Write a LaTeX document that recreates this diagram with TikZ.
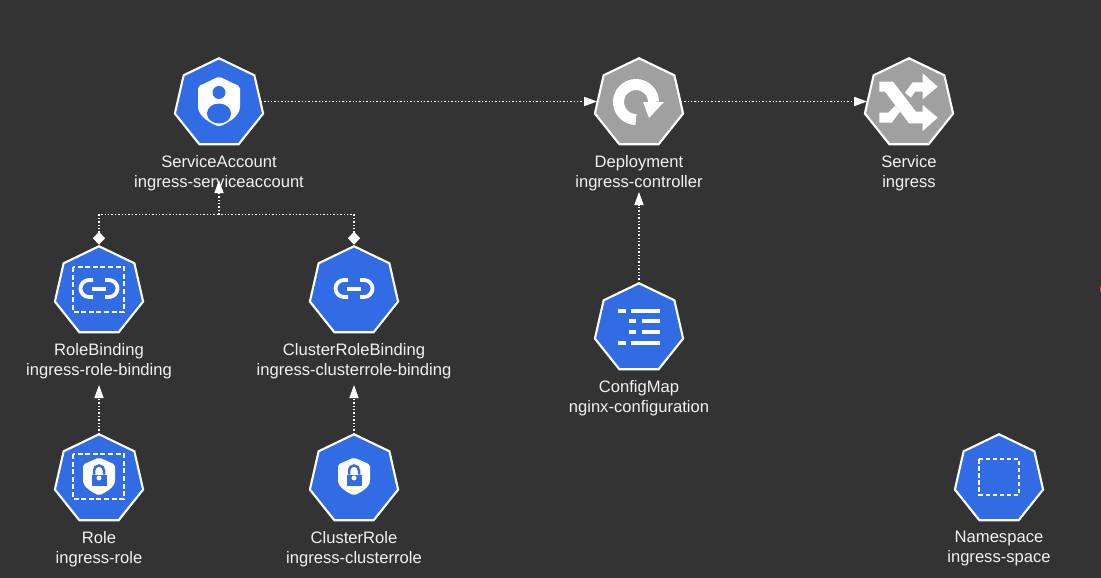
\documentclass[tikz,border=0pt]{standalone}
\usepackage{fontspec}
\setmainfont{Liberation Sans}
\usetikzlibrary{arrows.meta,shapes.geometric,positioning}
\definecolor{kubebg}{HTML}{333333}
\definecolor{kubeblue}{HTML}{326CE5}
\definecolor{kubegrey}{HTML}{A0A0A0}
\definecolor{kubetext}{HTML}{F2F2F2}
\definecolor{kubemark}{HTML}{C8404A}

\tikzset{
    % one Kubernetes object
    kobj/.style={regular polygon, regular polygon sides=7, minimum size=90.5pt, inner sep=0pt, outer sep=0pt, draw=white, line width=2.1pt, fill=#1},
    kobj/.default=kubeblue,
    ktext/.style={align=center, text=kubetext, font=\fontsize{16.6pt}{20pt}\selectfont},
    flow/.style={draw=white, line width=1.4pt, dotted, -{Triangle[length=13pt,width=9pt,fill=white]}},
    bound/.style={draw=white, line width=1.4pt, dotted, {Diamond[length=13pt,width=12pt,fill=white]}-},
    framebox/.style={draw=white, line width=2.6pt, dash pattern=on 5pt off 2.6pt},
    pics/personshield/.style={code={
        \fill[white, rounded corners=2pt] (0,-27) -- (21,-17) -- (21,1) .. controls (21,13) and (8,20) .. (0,23)
            .. controls (-8,20) and (-21,13) .. (-21,1) -- (-21,-17) -- cycle;
        \fill[kubeblue] (0,-11) circle (6.5pt);
        \fill[kubeblue] (0,10) ellipse (12pt and 10pt);
    }},
    pics/lockshield/.style={code={
        \fill[white, rounded corners=2pt] (0,-22) -- (16,-15) -- (16,-1) .. controls (16,8) and (6,13) .. (0,16)
            .. controls (-6,13) and (-16,8) .. (-16,-1) -- (-16,-15) -- cycle;
        \fill[kubeblue] (-7.5,-5) rectangle (7.5,6);
        \draw[kubeblue, line width=2.5pt] (-5,-5) -- (-5,-9) arc[start angle=180,end angle=360,radius=5] -- (5,-5);
        \fill[white] (0,-1.5) circle (2.5pt);
    }},
    pics/chain/.style={code={
        \draw[white, line width=3.8pt] (-6,-11.5) -- (-10,-11.5) arc[start angle=270,end angle=90,radius=8.5] -- (-6,5.5);
        \draw[white, line width=3.8pt] (6,-11.5) -- (10,-11.5) arc[start angle=-90,end angle=90,radius=8.5] -- (6,5.5);
        \draw[white, line width=4pt] (-7,-3) -- (7,-3);
    }},
}

\begin{document}
\begin{tikzpicture}[x=1pt, y=-1pt, node distance=69.5pt]
    \fill[kubebg] (0,0) rectangle (1101,578);
    \useasboundingbox (0,0) rectangle (1101,578);

    %% Top row
    \node[kobj] (SA) at (219,103.5) {};
    \node[kobj=kubegrey, right of = SA, node distance=420pt] (DP) {};
    \node[kobj=kubegrey, right of = DP, node distance=270pt] (SV) {};
    \node[ktext, below of = SA] (SAt) {ServiceAccount\\ingress-serviceaccount};
    \node[ktext, below of = DP] (DPt) {Deployment\\ingress-controller};
    \node[ktext, below of = SV] (SVt) {Service\\ingress};

    %% Bindings
    \node[kobj] (RB) at (99,291.5) {};
    \node[kobj, right of = RB, node distance=255pt] (CRB) {};
    \node[ktext, below of = RB] (RBt) {RoleBinding\\ingress-role-binding};
    \node[ktext, below of = CRB] (CRBt) {ClusterRoleBinding\\ingress-clusterrole-binding};

    %% Roles
    \node[kobj, below of = RB, node distance=188pt] (R) {};
    \node[kobj, right of = R, node distance=255pt] (CR) {};
    \node[ktext, below of = R] (Rt) {Role\\ingress-role};
    \node[ktext, below of = CR] (CRt) {ClusterRole\\ingress-clusterrole};

    %% ConfigMap and Namespace
    \node[kobj] (CM) at (639,328.5) {};
    \node[ktext, below of = CM] (CMt) {ConfigMap\\nginx-configuration};
    \node[kobj, right of = CR, node distance=645pt] (NS) {};
    \node[ktext, below of = NS] (NSt) {Namespace\\ingress-space};

    %% Icons
    \pic at (SA) {personshield};
    \pic at (RB) {chain};
    \pic at (CRB) {chain};
    \draw[framebox] (73,267) rectangle (124,312);
    \pic at (R) {lockshield};
    \pic at (CR) {lockshield};
    \draw[framebox] (73,454) rectangle (124,499);
    \draw[framebox, line width=2pt, dash pattern=on 4.5pt off 2.5pt] (979,459) rectangle (1019,494.5);

    \draw[white, line width=11pt] (636,119.5) arc[start angle=90,end angle=360,radius=17.5];
    \fill[white] (643,102) -- (664,102) -- (649,118) -- cycle;

    \fill[white] (879.3,81.7) -- (893,81.7) -- (916,111.7) -- (922.7,111.7) -- (922.7,105) -- (937.7,117.7)
        -- (922.7,131) -- (922.7,123.3) -- (909,123.3) -- (885,91.7) -- (879.3,91.7) -- cycle;
    \fill[white] (922.7,73.3) -- (937.7,86.7) -- (922.7,99.3) -- (922.7,91.7) -- (915,91.7) -- (911,97.7)
        -- (905,92.7) -- (912.7,82.3) -- (922.7,82.3) -- cycle;
    \fill[white] (879.3,112.7) -- (888.3,112.7) -- (895,105.7) -- (900,111.7) -- (891.7,122.7) -- (879.3,122.7) -- cycle;

    \foreach \y/\a/\b/\c in {310.7/618.3/630.7/625.7, 321.3/629/641.7/635.7, 332.3/629/641.7/635.7, 343.3/618.3/630.7/625.7} {
        \fill[white] (\a,\y-2) rectangle (\c,\y+2);
        \fill[white] (\b,\y-2) rectangle (660,\y+2);
    }

    %% Connectors
    \coordinate (SAjoin) at (219,214.5);
    \coordinate (SAend) at (219,180);
    \coordinate (DPend) at (639,192);
    \coordinate (RBend) at (99,385);
    \coordinate (CRBend) at (354,385);

    \draw[flow] ([yshift=2pt]SA.east) to ([yshift=2pt]DP.west);
    \draw[flow] ([yshift=2pt]DP.east) to ([yshift=2pt]SV.west);
    \draw[bound] ([yshift=1.5pt]RB.north) |- (SAjoin);
    \draw[bound] ([yshift=1.5pt]CRB.north) |- (SAjoin);
    \draw[flow] (SAjoin) to (SAend);
    \draw[flow] (CM.north) to (DPend);
    \draw[flow] (R.north) to (RBend);
    \draw[flow] (CR.north) to (CRBend);

    % clipped mark at the right edge
    \fill[kubemark] (1099.5,286) rectangle (1101,292);
\end{tikzpicture}
\end{document}
